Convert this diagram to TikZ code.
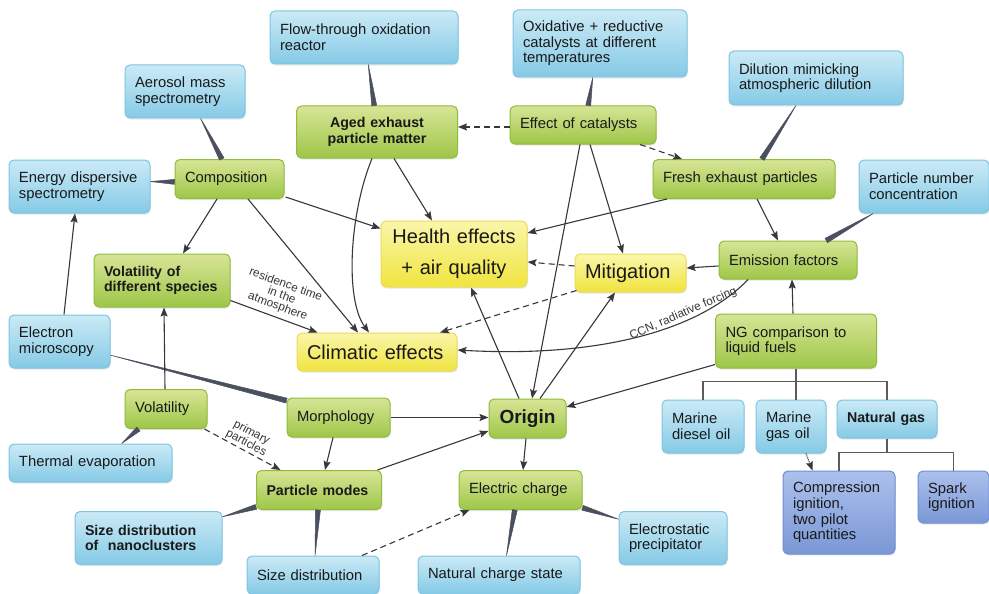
\documentclass[tikz,border=0pt]{standalone}
\usepackage{fontspec}
\setmainfont{Liberation Sans}
\usetikzlibrary{positioning, calc, arrows.meta, shadows}

% Farben der Kaesten
\definecolor{blauoben}{RGB}{203,234,246}
\definecolor{blauunten}{RGB}{133,202,230}
\definecolor{blaurand}{RGB}{125,196,226}
\definecolor{gruenoben}{RGB}{215,229,150}
\definecolor{gruenunten}{RGB}{158,198,72}
\definecolor{gruenrand}{RGB}{143,188,58}
\definecolor{gelboben}{RGB}{250,246,170}
\definecolor{gelbunten}{RGB}{240,228,62}
\definecolor{gelbrand}{RGB}{233,220,90}
\definecolor{dunkeloben}{RGB}{172,192,236}
\definecolor{dunkelunten}{RGB}{122,152,214}
\definecolor{dunkelrand}{RGB}{112,142,206}
\definecolor{linie}{RGB}{55,55,60}
\definecolor{keilfarbe}{RGB}{75,80,95}
\definecolor{baumlinie}{RGB}{90,90,95}
\definecolor{schrift}{RGB}{25,25,25}

\tikzset{
    kasten/.style={
        rounded corners=5pt,
        line width=1pt,      % Kontur der Kaesten
        inner xsep=10pt,
        inner ysep=2pt,
        text=schrift,
        align=left,
        font=\fontsize{14.8}{15.6}\selectfont,
        drop shadow={shadow xshift=0.6pt, shadow yshift=-1.6pt, opacity=0.18}
    },
    blaukasten/.style={kasten, draw=blaurand, top color=blauoben, bottom color=blauunten},
    gruenkasten/.style={kasten, draw=gruenrand, top color=gruenoben, bottom color=gruenunten},
    gelbkasten/.style={kasten, draw=gelbrand, top color=gelboben, bottom color=gelbunten,
        font=\fontsize{20}{24}\selectfont},
    dunkelkasten/.style={kasten, draw=dunkelrand, top color=dunkeloben, bottom color=dunkelunten},
    fettschrift/.style={font=\fontsize{14.2}{15.6}\selectfont\bfseries},
    pfeil/.style={draw=linie, line width=1.1pt, -{Stealth[length=9pt, width=7pt, inset=1.5pt]}},
    strichpfeil/.style={pfeil, dash pattern=on 6pt off 4pt},
    baum/.style={draw=baumlinie, line width=1.6pt},
    beschriftung/.style={font=\fontsize{11.8}{11.5}\selectfont, text=linie, inner sep=1.5pt, align=center}
}

% Keilfoermige Verbindung: duenn am ersten, breit am zweiten Punkt
\newcommand{\keil}[2]{%
    \filldraw[keilfarbe, line width=0.5pt, line join=round]
        (#1) -- ($(#2)!2.5pt!90:(#1)$) -- ($(#2)!2.5pt!-90:(#1)$) -- cycle;}

\begin{document}
\begin{tikzpicture}[x=1pt, y=-1pt]

    \fill[white] (0,0) rectangle (989,594);
    \useasboundingbox (0,0) rectangle (989,594);

    % Methoden (blau)
    \node[blaukasten, text width=168pt, minimum height=53pt] (flow) at (364,37.5) {Flow-through oxidation\\reactor};
    \node[blaukasten, text width=100pt, minimum height=53pt] (aero) at (185,91.5) {Aerosol mass\\spectrometry};
    \node[blaukasten, text width=121pt, minimum height=53pt] (eds) at (79.5,186.5) {Energy dispersive\\spectrometry};
    \node[blaukasten, text width=154pt, minimum height=67pt] (oxred) at (600,43.5) {Oxidative + reductive\\catalysts at different\\temperatures};
    \node[blaukasten, text width=154pt, minimum height=54pt] (dil) at (816,78) {Dilution mimicking\\atmospheric dilution};
    \node[blaukasten, text width=110pt, minimum height=53pt] (pnc) at (924,186.5) {Particle number\\concentration};
    \node[blaukasten, text width=81pt, minimum height=53pt] (em) at (59.5,341.5) {Electron\\microscopy};
    \node[blaukasten, text width=143pt, minimum height=38pt] (therm) at (90.5,463) {Thermal evaporation};
    \node[blaukasten, fettschrift, text width=127pt, minimum height=53pt] (nano) at (148.5,538) {Size distribution\\of\ \ nanoclusters};
    \node[blaukasten, text width=112pt, minimum height=38pt] (sdist) at (313,575) {Size distribution};
    \node[blaukasten, text width=142pt, minimum height=38pt] (natch) at (499,575) {Natural charge state};
    \node[blaukasten, text width=88pt, minimum height=53pt] (estat) at (673,538) {Electrostatic\\precipitator};
    \node[blaukasten, text width=62pt, minimum height=53pt] (mdo) at (703,426.5) {Marine\\diesel oil};
    \node[blaukasten, text width=50pt, minimum height=53pt] (mgo) at (791,426.5) {Marine\\gas oil};
    \node[blaukasten, fettschrift, text width=80pt, minimum height=38pt] (ngas) at (887,419) {Natural gas};
    \node[dunkelkasten, text width=92pt, minimum height=83pt] (ci) at (839,512.5) {Compression\\ignition,\\two pilot\\quantities};
    \node[dunkelkasten, text width=51pt, minimum height=52pt] (si) at (953.5,497) {Spark\\ignition};

    % Themen (gruen)
    \node[gruenkasten, fettschrift, align=center, text width=141pt, minimum height=52pt] (aged) at (377,132) {Aged exhaust\\particle matter};
    \node[gruenkasten, text width=89pt, minimum height=39pt] (comp) at (229.5,179) {Composition};
    \node[gruenkasten, text width=126pt, minimum height=38pt] (cat) at (583,125) {Effect of catalysts};
    \node[gruenkasten, text width=162pt, minimum height=39pt] (fresh) at (744,179) {Fresh exhaust particles};
    \node[gruenkasten, text width=118pt, minimum height=38pt] (emis) at (788,260) {Emission factors};
    \node[gruenkasten, fettschrift, text width=116pt, minimum height=53pt] (volsp) at (162,280.5) {Volatility of\\different species};
    \node[gruenkasten, text width=141pt, minimum height=54pt] (ng) at (796,341) {NG comparison to\\liquid fuels};
    \node[gruenkasten, text width=62pt, minimum height=39pt] (vol) at (166,409) {Volatility};
    \node[gruenkasten, text width=83pt, minimum height=39pt] (morph) at (338.5,417.5) {Morphology};
    \node[gruenkasten, font=\fontsize{19}{22}\selectfont\bfseries, align=center, inner xsep=5pt, text width=67pt, minimum height=39pt] (origin) at (527.5,418.5) {Origin};
    \node[gruenkasten, fettschrift, text width=105pt, minimum height=39pt] (modes) at (319,490) {Particle modes};
    \node[gruenkasten, text width=103pt, minimum height=39pt] (elec) at (520.5,490) {Electric charge};

    % Wirkungen (gelb)
    \node[gelbkasten, align=center, font=\fontsize{20}{31}\selectfont, text width=126pt, minimum height=66pt] (health) at (454,254) {Health effects\\+ air quality};
    \node[gelbkasten, text width=140pt, minimum height=38pt] (clim) at (377,352) {Climatic effects};
    \node[gelbkasten, text width=91pt, minimum height=38pt] (mitig) at (630.5,273) {Mitigation};

    % Keile von den Methoden zu den Themen
    \keil{aero.-60.5}{comp.111}
    \keil{flow.-81.4}{aged.96.6}
    \keil{eds.4}{comp.183}
    \keil{oxred.258.2}{cat.75.3}
    \keil{dil.234.9}{fresh.48.9}
    \keil{pnc.208.9}{emis.27.2}
    \keil{em.-15}{morph.162.2}
    \keil{therm.32.8}{vol.216.9}
    \keil{nano.16.7}{modes.195.6}
    \keil{sdist.84}{modes.267.1}
    \keil{natch.69.8}{elec.254.2}
    \keil{estat.161.6}{elec.-16.6}

    % Pfeile
    \draw[pfeil] ($(comp.south)+(-12.5,0)$) -- ($(volsp.north)+(21,0)$);
    \draw[pfeil] ($(comp.south east)+(1,-2)$) -- ($(health.north west)+(0,8)$);
    \draw[pfeil] ($(comp.south)+(18.5,0)$) -- ($(clim.north)+(-19,0)$);
    \draw[pfeil] ($(aged.south)+(17,0)$) -- ($(health.north)+(-22,0)$);
    \draw[pfeil] ($(aged.south)+(-5,0)$) .. controls (349,215) and (345,300) .. ($(clim.north)+(-8,0)$);
    \draw[strichpfeil] ($(cat.west)+(0,2)$) -- ($(aged.east)+(0,-5)$);
    \draw[strichpfeil] ($(cat.south)+(57,0)$) -- ($(fresh.north)+(-62,0)$);
    \draw[pfeil] ($(cat.south)+(7,0)$) -- ($(mitig.north)+(-7.5,0)$);
    \draw[pfeil] ($(cat.south)+(-3,0)$) -- ($(origin.north)+(4.5,0)$);
    \draw[pfeil] ($(fresh.south)+(-77,0)$) -- ($(health.east)+(0,-21)$);
    \draw[pfeil] ($(fresh.south)+(13,0)$) -- ($(emis.north)+(-10,0)$);
    \draw[pfeil] ($(emis.west)+(0,6)$) -- ($(mitig.east)+(0,-5)$);
    \draw[strichpfeil] ($(mitig.west)+(0,-7)$) -- ($(health.east)+(0,8)$);
    \draw[strichpfeil] ($(mitig.south west)+(2,-2)$) -- ($(clim.north)+(63,0)$);
    \draw[pfeil] ($(emis.south)+(-40,0)$) .. controls (700,330) and (600,358) ..
        node[beschriftung, pos=0.32, sloped, above] {CCN, radiative forcing} ($(clim.east)+(0,-2)$);
    \draw[pfeil] ($(ng.north)+(-3,0)$) -- ($(emis.south)+(4,0)$);
    \draw[pfeil] ($(ng.south west)+(0,-4)$) -- ($(origin.east)+(0,-11.5)$);
    \draw[pfeil] ($(origin.north)+(-8.5,0)$) -- ($(health.south)+(17,0)$);
    \draw[pfeil] ($(origin.north)+(12.5,0)$) -- ($(mitig.south)+(-15.5,0)$);
    \draw[pfeil] ($(origin.south)+(-1.5,0)$) -- ($(elec.north)+(2.5,0)$);
    \draw[pfeil] (morph.east) -- ($(origin.west)+(0,-1)$);
    \draw[pfeil] ($(morph.south)+(-5.5,0)$) -- ($(modes.north)+(6,0)$);
    \draw[pfeil] ($(modes.north east)+(-4.5,0)$) -- ($(origin.west)+(0,12.5)$);
    \draw[pfeil] ($(vol.north)+(-1,0)$) -- ($(volsp.south)+(2,0)$);
    \draw[strichpfeil] ($(vol.south east)+(-3,0)$) --
        node[beschriftung, sloped, above] {primary\\particles} ($(modes.north west)+(24.5,0)$);
    \draw[pfeil] ($(volsp.east)+(0,20)$) --
        node[beschriftung, sloped, above=3pt] {residence time\\in the\\atmosphere} ($(clim.north west)+(21,0)$);
    \draw[pfeil] ($(em.north)+(4.5,0)$) -- ($(eds.south)+(-4.5,0)$);
    \draw[strichpfeil] ($(sdist.north)+(49,0)$) -- ($(elec.south west)+(11,0)$);
    \draw[pfeil, densely dotted] ($(mgo.south)+(15,0)$) -- ($(ci.north west)+(30,0)$);

    % Baumstruktur unter den Kraftstoffen
    \draw[baum] (ng.south) -- ++(0,13) coordinate (ngknick);
    \draw[baum] (mdo.north) |- (ngknick) -| (ngas.north);
    \draw[baum] (ngknick) -- (ngknick |- mgo.north);
    \draw[baum] (ngas.south) -- ++(0,14) coordinate (gasknick);
    \draw[baum] (ci.north) |- (gasknick) -| (si.north);

\end{tikzpicture}
\end{document}
